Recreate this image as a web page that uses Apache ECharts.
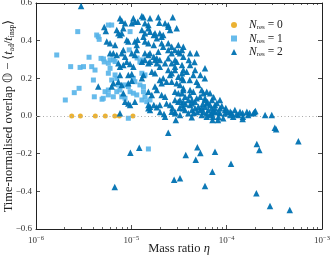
<!DOCTYPE html>
<html><head><meta charset="utf-8">
<script src="https://cdn.jsdelivr.net/npm/echarts@6/dist/echarts.min.js"></script>
<style>html,body{margin:0;padding:0;background:#fff}#c{width:332px;height:256px}</style>
</head><body><div id="c"></div>
<script>
// ---- data ----
const decadeExps = [-6, -5, -4, -3];
const yTicks = [-0.6, -0.4, -0.2, 0.0, 0.2, 0.4, 0.6];
const legendLabels = ['0', '1', '2'];

const n0Eta = [2.37e-6, 2.92e-6, 4.19e-6, 5.33e-6, 6.7e-6, 7.48e-6, 1.04e-5];
const n0Val = [0, 0, 0, 0, 0, 0, 0];

const n1Points = [
[1.65e-6,0.324],[2.74e-6,0.448],[2.31e-6,0.262],[2.9e-6,0.258],[3.15e-6,0.262],[3.84e-6,0.262],[3.6e-6,0.312],[4.16e-6,0.244],[4.0e-6,0.191],[4.81e-6,0.306],
[2.52e-6,0.124],[2.03e-6,0.085],[2.83e-6,0.147],[4.09e-6,0.102],[4.93e-6,0.089],[4.33e-6,0.43],[4.5e-6,0.421],[4.6e-6,0.407],[5.74e-6,0.483],[6.22e-6,0.483],
[9.7e-6,0.448],[6.47e-6,0.298],[6.75e-6,0.289],[9.5e-6,0.351],[5.1e-6,0.303],[5.2e-6,0.287],[5.98e-6,0.298],[5.74e-6,0.28],[5.98e-6,0.253],[5.74e-6,0.227],
[6.75e-6,0.218],[7.03e-6,0.2],[6.22e-6,0.191],[7.31e-6,0.165],[5.3e-6,0.129],[5.74e-6,0.112],[6.47e-6,0.102],[5.08e-6,0.094],[7.03e-6,0.129],[7.6e-6,0.138],
[8.59e-6,0.165],[9.3e-6,0.156],[1.05e-5,0.2],[1.09e-5,0.182],[9.7e-6,0.129],[1.05e-5,0.121],[1.14e-5,0.112],[7.93e-6,0.102],[8.59e-6,0.094],[1.23e-5,0.165],
[1.34e-5,0.156],[1.34e-5,0.129],[1.39e-5,0.102],[1.29e-5,0.085],[1.45e-5,0.076],[1.57e-5,0.085],[1.29e-5,0.227],[1.39e-5,0.218],[9.3e-6,-0.012],[1.51e-5,-0.175],
[1.15e-5,0.308],[1.23e-5,0.287],[1.3e-5,0.298],[5.74e-6,0.138]
];

const n2Points = [
[2.97e-6,0.584],[5.2e-6,0.473],[5.4e-6,0.451],[5.52e-6,0.395],[5.98e-6,0.386],[6.75e-6,0.377],[4.5e-6,0.156],[6.47e-6,0.333],[7.03e-6,0.324],[6.47e-6,0.174],
[7.6e-6,0.519],[7.93e-6,0.506],[8.59e-6,0.492],[1.01e-5,0.492],[1.09e-5,0.501],[7.03e-6,0.457],[7.31e-6,0.439],[7.93e-6,0.439],[7.6e-6,0.43],[8.24e-6,0.466],
[8.95e-6,0.404],[9.3e-6,0.395],[1.09e-5,0.395],[5.98e-6,0.333],[7.93e-6,0.333],[8.24e-6,0.35],[1.01e-5,0.333],[1.09e-5,0.324],
[1.05e-5,0.519],[1.29e-5,0.531],[1.34e-5,0.524],[1.57e-5,0.519],[1.92e-5,0.524],[2.72e-5,0.524],[2.44e-5,0.483],[1.97e-5,0.495],
[1.17e-5,0.501],[1.39e-5,0.492],[1.51e-5,0.483],[1.29e-5,0.457],[1.39e-5,0.439],[1.57e-5,0.448],[1.51e-5,0.466],
[1.34e-5,0.421],[1.77e-5,0.439],[1.72e-5,0.43],[1.85e-5,0.413],[1.99e-5,0.439],[2.08e-5,0.421],[2.16e-5,0.43],
[2.26e-5,0.492],[2.44e-5,0.474],[2.55e-5,0.457],[2.99e-5,0.466],[1.16e-5,0.405],
[1.14e-5,0.377],[1.39e-5,0.395],[1.51e-5,0.386],[1.72e-5,0.377],[2.16e-5,0.368],[2.44e-5,0.386],[2.08e-5,0.386],
[2.65e-5,0.368],[2.87e-5,0.35],[3.51e-5,0.368],[3.11e-5,0.377],[3.4e-5,0.35],[3.24e-5,0.333],[3.51e-5,0.315],[4.13e-5,0.333],[4.85e-5,0.333],
[1.14e-5,0.35],[1.39e-5,0.333],[1.51e-5,0.324],[1.92e-5,0.341],[2.44e-5,0.35],[2.65e-5,0.333],[3.11e-5,0.341],
[1.85e-5,0.306],[1.99e-5,0.297],[2.44e-5,0.306],[2.87e-5,0.297],[2.99e-5,0.288],[1.57e-5,0.288],[1.29e-5,0.288],
[8.59e-6,0.315],[8.95e-6,0.288],[7.31e-6,0.28],[1.39e-5,0.297],[1.57e-5,0.333],[1.72e-5,0.315],
[1.85e-5,0.28],[1.99e-5,0.262],[2.26e-5,0.28],[1.64e-5,0.235],[1.77e-5,0.227],[2.44e-5,0.244],[2.65e-5,0.227],[2.87e-5,0.244],
[2.16e-5,0.2],[2.34e-5,0.182],[2.65e-5,0.182],[2.99e-5,0.174],[3.11e-5,0.209],[3.4e-5,0.2],
[1.77e-5,0.156],[1.85e-5,0.138],[1.51e-5,0.129],[1.64e-5,0.112],[2.08e-5,0.112],[2.26e-5,0.102],[2.87e-5,0.129],[3.11e-5,0.121],[3.51e-5,0.138],
[1.72e-5,0.058],[1.85e-5,0.046],[2.34e-5,0.067],[2.55e-5,0.058],[3.11e-5,0.076],[3.4e-5,0.058],[3.51e-5,0.041],
[9.3e-6,0.067],[9.7e-6,0.058],[6.22e-6,0.156],[7.6e-6,0.218],
[2.87e-5,0.014],[3.24e-5,0.005],[2.26e-5,-0.004],[1.51e-5,0.041],
[7.6e-6,0.262],[8.24e-6,0.271],[9.7e-6,0.276],[1.05e-5,0.262],
[7.31e-6,0.182],[7.93e-6,0.165],[9.3e-6,0.174],[1.01e-5,0.187],[9.3e-6,0.218],[1.01e-5,0.223],[8.24e-6,0.121],[8.59e-6,0.076],[1.09e-5,0.076],
[7.6e-6,0.014],[1.57e-5,0.032],[2.2e-5,0.011],[2.93e-5,-0.021],[2.44e-5,-0.089],
[4.13e-5,0.271],[5.93e-5,0.253],[1.51e-5,0.28],[1.77e-5,0.297],
[1.34e-5,0.218],[1.29e-5,0.2],[1.99e-5,0.191],[2.08e-5,0.174],[2.55e-5,0.218],[3.4e-5,0.227],[3.81e-5,0.235],[3.51e-5,0.191],[4.85e-5,0.182],[5.05e-5,0.165],
[4.13e-5,0.138],[4.47e-5,0.129],[5.48e-5,0.138],[6.18e-5,0.129],[6.7e-5,0.121],[3.4e-5,0.121],[3.66e-5,0.102],[5.26e-5,0.102],[5.93e-5,0.094],
[1.51e-5,0.058],[1.57e-5,0.049],[1.99e-5,0.058],[2.87e-5,0.085],
[3.96e-5,0.085],[4.32e-5,0.067],[4.66e-5,0.076],[5.05e-5,0.049],[5.48e-5,0.041],[5.93e-5,0.049],[6.43e-5,0.032],[6.98e-5,0.041],[7.55e-5,0.058],
[3.66e-5,0.032],[3.96e-5,0.014],[4.32e-5,0.032],[5.48e-5,0.005],[6.18e-5,-0.004],[6.98e-5,0.014],[2.87e-5,0.023],
[2.65e-5,0.28],[2.87e-5,0.262],[3.4e-5,0.271],[3.51e-5,0.244],[4.47e-5,0.218],[3.24e-5,0.165],[3.51e-5,0.147],
[5.7e-5,0.121],[4.32e-5,0.085],[4.85e-5,0.094],[3.24e-5,0.085],[3.51e-5,0.076],[5.93e-5,0.085],[6.18e-5,0.067],[6.7e-5,0.058],[7.55e-5,0.041],
[8.53e-5,0.041],[9.62e-5,0.032],[1.09e-4,0.023],[1.22e-4,0.032],[1.38e-4,0.023],[1.63e-4,0.023],[1.91e-4,0.014],[2.53e-4,0.005],[2.97e-4,0.005],
[3.2e-4,-0.062],[3.3e-4,-0.071],[8.2e-5,-0.004],[9.2e-5,-0.012],
[5.26e-5,0.032],[5.7e-5,0.023],[6.18e-5,0.014],[6.7e-5,0.005],[7.2e-5,-0.004],[2.65e-5,0.023],
[1.09e-4,0.005],[1.17e-4,-0.004],[1.32e-4,0.005],[1.48e-4,-0.004],[1.68e-4,0.005],
[4.3e-5,-0.007],[7.1e-5,-0.021],[8.1e-5,-0.021],[1.47e-4,-0.016],
[7.55e-5,0.021],[8.5e-5,0.016],[9.6e-5,0.013],[1.03e-4,0.021],[1.13e-4,0.016],[1.27e-4,0.011],[1.47e-4,0.016],[1.74e-4,0.016],[1.96e-4,0.021],[2.0e-4,0.027],
[4.13e-5,0.058],[4.66e-5,0.041],[4.9e-5,0.021],[5.6e-5,0.064],[6.3e-5,0.074],[7.0e-5,0.085],[7.9e-5,0.069],[8.9e-5,0.053],[9.8e-5,0.042],[7.2e-5,0.027],
[8.1e-5,0.021],[4.5e-5,0.016],[3.7e-5,0.064],[4.1e-5,0.11],[7.3e-5,0.1],[8.5e-5,0.085],[3.2e-5,0.042],[2.7e-5,0.042],[2.0e-5,0.021],
[4.0e-5,0.297],[4.6e-5,0.287],[5.3e-5,0.218],[4.1e-5,0.191],[5.9e-5,0.2],[4.66e-5,0.244],
[9.77e-6,-0.195],[1.21e-5,-0.168],[6.7e-6,-0.377],[2.81e-5,-0.338],[3.24e-5,-0.331],[3.72e-5,-0.207],[4.93e-5,-0.166],[5.3e-5,-0.196],[4.74e-5,-0.232],
[5.93e-5,-0.372],[7.08e-5,-0.296],[7.55e-5,-0.19],[1.11e-4,-0.253],[2.07e-4,-0.149],[2.2e-4,-0.181],[2.05e-4,-0.41],[2.85e-4,-0.478],[5.65e-4,-0.134],[4.59e-4,-0.499]
];

// ---- styling ----
const FONT = 'Liberation Serif';
const C0 = '#E69F00', C1 = '#56B4E9', C2 = '#0072B2';
const AX = '#222';

const minorLogs = [];
for (let i = 0; i < decadeExps.length - 1; i++)
  for (let k = 2; k <= 9; k++) minorLogs.push(decadeExps[i] + Math.log10(k));

const supRich = {
  b: { fontFamily: FONT, fontSize: 9, color: '#333' },
  e: { fontFamily: FONT, fontSize: 6.5, color: '#333', verticalAlign: 'top', padding: [0, 0, 5, 0] }
};
function fmtY(v) { return (v < 0 ? '\u2212' : '') + Math.abs(v).toFixed(1); }

const legRich = {
  i: { fontFamily: FONT, fontSize: 11.5, fontStyle: 'italic', color: '#222', lineHeight: 12 },
  s: { fontFamily: FONT, fontSize: 7, color: '#222', verticalAlign: 'bottom', lineHeight: 12 },
  t: { fontFamily: FONT, fontSize: 11.5, color: '#222', lineHeight: 12 }
};
const nameRich = {
  r: { fontFamily: FONT, fontSize: 12.5, color: '#222', lineHeight: 15 },
  i: { fontFamily: FONT, fontSize: 12.5, fontStyle: 'italic', color: '#222', lineHeight: 15 },
  s: { fontFamily: FONT, fontSize: 7.5, color: '#222', verticalAlign: 'bottom', lineHeight: 15 }
};

const chart = echarts.init(document.getElementById('c'), null, { renderer: 'canvas' });
const logAxisBase = {
  type: 'log', logBase: 10, min: Math.pow(10, decadeExps[0]), max: Math.pow(10, decadeExps[decadeExps.length - 1]),
  axisLine: { show: true, onZero: false, lineStyle: { color: AX, width: 1 } },
  axisTick: { show: true, inside: true, length: 4, lineStyle: { color: AX, width: 0.8 } },
  splitLine: { show: false }, minorTick: { show: false }
};
const minorAxisBase = {
  type: 'value', min: decadeExps[0], max: decadeExps[decadeExps.length - 1],
  axisLine: { show: false, onZero: false }, axisLabel: { show: false }, splitLine: { show: false },
  axisTick: { show: true, inside: true, length: 2, customValues: minorLogs, lineStyle: { color: AX, width: 0.7 } }
};
const yBase = {
  type: 'value', min: yTicks[0], max: yTicks[yTicks.length - 1], interval: 0.2,
  axisLine: { show: true, onZero: false, lineStyle: { color: AX, width: 1 } },
  axisTick: { show: true, inside: true, length: 4, lineStyle: { color: AX, width: 0.8 } },
  splitLine: { show: false }
};

chart.setOption({
  animation: false,
  backgroundColor: '#fff',
  grid: { left: 36, right: 10, top: 3, bottom: 27, containLabel: false, outerBoundsMode: 'none' },
  legend: {
    orient: 'vertical', left: 226, top: 14, itemWidth: 6, itemHeight: 6, itemGap: 1.5,
    data: [{ name: 'n0', icon: 'circle' }, { name: 'n1', icon: 'rect' }, { name: 'n2', icon: 'triangle' }],
    formatter: function (n) { return '{i|N}{s|res}{t| = ' + legendLabels[+n.slice(1)] + '}'; },
    textStyle: { rich: legRich, padding: [0, 0, 0, 7] }
  },
  xAxis: [
    Object.assign({}, logAxisBase, {
      position: 'bottom',
      axisLabel: { show: true, margin: 6, formatter: function (v) {
        const e = Math.round(Math.log10(v)); return '{b|10}{e|' + (e < 0 ? '\u2212' : '') + Math.abs(e) + '}'; }, rich: supRich },
      name: '{r|Mass ratio }{i|\u03b7}', nameLocation: 'middle', nameGap: 12, nameMoveOverlap: false,
      nameTextStyle: { rich: nameRich }
    }),
    Object.assign({}, logAxisBase, { position: 'top', axisLabel: { show: false } }),
    Object.assign({}, minorAxisBase, { position: 'bottom' }),
    Object.assign({}, minorAxisBase, { position: 'top' })
  ],
  yAxis: [
    Object.assign({}, yBase, {
      position: 'left',
      axisLabel: { show: true, margin: 4, formatter: fmtY, fontFamily: FONT, fontSize: 9, color: '#333' },
      name: '{r|Time-normalised overlap \ud835\udd46 \u2212 \u27e8}{i|t}{s|ad}{r|/}{i|t}{s|insp}{r|\u27e9}',
      nameLocation: 'middle', nameGap: 20, nameMoveOverlap: false, nameTextStyle: { rich: nameRich }
    }),
    Object.assign({}, yBase, { position: 'right', axisLabel: { show: false } })
  ],
  series: [
    {
      name: 'ref', type: 'scatter', data: [], z: 1, silent: true,
      markLine: { silent: true, symbol: ['none', 'none'], label: { show: false },
        lineStyle: { type: [1, 2.5], color: '#aaa', width: 1 }, data: [{ yAxis: 0 }] }
    },
    { name: 'n0', type: 'scatter', symbol: 'circle', symbolSize: 5, itemStyle: { color: C0 }, z: 3,
      data: n0Eta.map((e, i) => [e, n0Val[i]]) },
    { name: 'n1', type: 'scatter', symbol: 'rect', symbolSize: 5, itemStyle: { color: C1, opacity: 0.9 }, z: 4,
      data: n1Points },
    { name: 'n2', type: 'scatter', symbol: 'triangle', symbolSize: 6.5, itemStyle: { color: C2, opacity: 0.95 }, z: 5,
      data: n2Points }
  ]
});
</script></body></html>
